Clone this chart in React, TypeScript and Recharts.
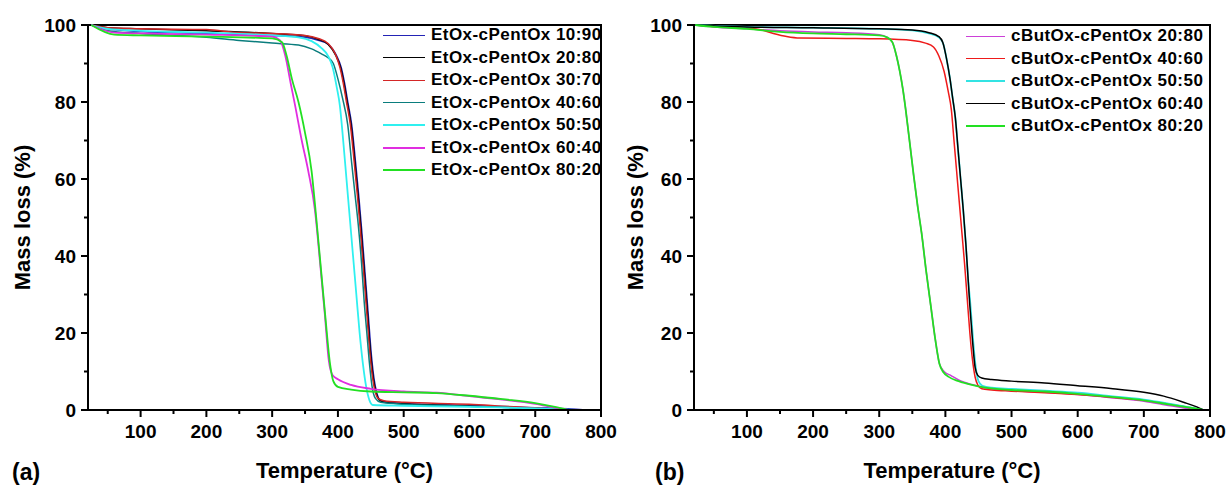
import React from "react";
import { LineChart, Line, XAxis, YAxis, ReferenceArea, Label } from "recharts";

const FONT = "'Liberation Sans', Arial, sans-serif";

// axis ticks (majors get a label, minors only a short tick)
const xTicks = [50, 100, 150, 200, 250, 300, 350, 400, 450, 500, 550, 600, 650, 700, 750, 800];
const yTicks = [0, 10, 20, 30, 40, 50, 60, 70, 80, 90, 100];

type Pt = [number, number]; // [temperature °C, mass %]

// (a) EtOx-cPentOx
const etox1090: Pt[] = [[25, 100], [50, 99], [100, 98.3], [200, 97.8], [300, 97.3], [350, 96.8], [370, 96], [385, 95], [398, 92], [405, 89], [410, 85], [415, 80], [421, 74], [427, 64], [432, 55], [436, 47], [441, 36], [446, 25], [451, 14], [455, 8], [459, 4.5], [463, 2.8], [470, 2.2], [500, 1.7], [600, 1.2], [700, 0.6], [750, 0.3], [780, 0], [800, 0]];
const etox2080: Pt[] = [[25, 100], [50, 99.3], [100, 99], [200, 98.5], [300, 97.8], [350, 97.2], [370, 96.3], [385, 95], [397, 92], [404, 89], [409, 85], [414, 80], [420, 74], [426, 64], [431, 55], [435, 47], [440, 36], [445, 25], [450, 14], [454, 8], [458, 4.5], [462, 2.8], [470, 2], [500, 1.6], [600, 1], [700, 0.4], [760, 0], [800, 0]];
const etox3070: Pt[] = [[25, 100], [50, 99.3], [100, 99], [200, 98.8], [250, 98], [300, 97.8], [350, 97.3], [370, 96.5], [385, 95.2], [396, 92.5], [403, 89], [408, 85], [413, 80], [419, 74], [425, 64], [430, 55], [434, 47], [439, 36], [444, 25], [449, 14], [453, 8], [457, 4.5], [461, 3], [470, 2.4], [500, 2], [600, 1.5], [650, 1], [700, 0.5], [740, 0]];
const etox4060: Pt[] = [[25, 100], [50, 98.5], [100, 97.8], [200, 96.8], [250, 96], [300, 95.3], [340, 94.8], [360, 93.8], [375, 92.5], [385, 91.5], [393, 90], [400, 86], [407, 81], [415, 74], [421, 64], [426, 56], [431, 48], [436, 38], [440, 28], [444, 20], [448, 12], [452, 6], [457, 3], [465, 2], [500, 1.5], [600, 1], [700, 0.4], [750, 0]];
const etox5050: Pt[] = [[25, 100], [50, 99], [100, 98.5], [200, 98], [300, 97.3], [340, 96.8], [360, 95.8], [375, 94], [385, 92], [392, 89], [398, 84], [403, 79], [408, 70], [413, 60], [418, 50], [423, 40], [428, 30], [433, 20], [438, 12], [443, 6], [448, 2.5], [453, 1.3], [500, 1.1], [600, 0.8], [700, 0.4], [760, 0]];
const etox6040: Pt[] = [[25, 100], [60, 98], [100, 97.8], [200, 97.5], [300, 97], [312, 96], [320, 92], [328, 85], [335, 79], [345, 70], [355, 62], [365, 52], [373, 38], [380, 25], [386, 13], [392, 9], [400, 8], [420, 6.5], [450, 5.5], [500, 4.8], [550, 4.5], [600, 3.6], [650, 2.7], [700, 1.6], [730, 0.6], [750, 0]];
const etox8020: Pt[] = [[25, 100], [60, 97.5], [100, 97.3], [200, 97], [300, 96.5], [315, 95.5], [322, 92], [330, 86], [340, 80], [350, 72], [360, 62], [367, 50], [374, 37], [381, 24], [388, 12], [393, 7.5], [400, 6], [420, 5.3], [450, 4.8], [500, 4.6], [550, 4.4], [600, 3.7], [650, 2.8], [700, 1.8], [730, 0.8], [750, 0]];

// (b) cButOx-cPentOx
const cbut2080: Pt[] = [[22, 100], [50, 99.5], [100, 99], [150, 98.5], [200, 98.2], [250, 98], [300, 97.5], [312, 96.8], [320, 95.5], [326, 92], [331, 88], [336, 83], [340, 78], [345, 71], [352, 61], [358, 53], [364, 46], [371, 36], [378, 27], [385, 18], [391, 12], [398, 10], [408, 9], [420, 7.8], [440, 6.6], [460, 5.8], [500, 5], [550, 4.6], [600, 4], [650, 3.2], [700, 2.3], [740, 1.1], [770, 0.3], [790, 0]];
const cbut4060: Pt[] = [[22, 100], [60, 99.5], [100, 99.3], [120, 98.8], [140, 97.8], [160, 97], [180, 96.6], [250, 96.5], [300, 96.4], [350, 96], [370, 95.3], [382, 94.3], [390, 92], [398, 88], [404, 83], [409, 78], [413, 70], [417, 62], [421, 54], [425, 46], [429, 38], [433, 29], [437, 20], [441, 13], [445, 8.5], [449, 6.5], [455, 5.5], [470, 5.2], [500, 4.9], [550, 4.5], [600, 4], [650, 3.3], [700, 2.5], [740, 1.5], [770, 0.6], [790, 0]];
const cbut5050: Pt[] = [[22, 100], [60, 99.7], [100, 99.5], [200, 99.3], [300, 99], [350, 98.6], [375, 97.8], [390, 96.8], [397, 95], [402, 91], [407, 86], [411, 81], [415, 76], [419, 68], [423, 60], [427, 52], [431, 43], [434, 35], [438, 27], [442, 18], [446, 11], [450, 7.5], [456, 6.3], [470, 5.8], [500, 5.5], [550, 5], [600, 4.5], [650, 3.6], [700, 2.7], [740, 1.6], [770, 0.7], [790, 0]];
const cbut6040: Pt[] = [[22, 100], [60, 99.7], [100, 99.5], [200, 99.3], [300, 99], [350, 98.7], [375, 98], [390, 97], [396, 95.5], [402, 91], [407, 86], [411, 81], [415, 76], [419, 68], [423, 60], [427, 52], [431, 43], [434, 35], [437, 27], [441, 18], [445, 11], [449, 9], [455, 8.3], [470, 7.9], [500, 7.5], [550, 7], [600, 6.3], [650, 5.6], [700, 4.6], [730, 3.6], [760, 2], [780, 0.8], [790, 0]];
const cbut8020: Pt[] = [[22, 100], [50, 99.5], [100, 99], [150, 98.2], [200, 97.8], [250, 97.6], [300, 97.3], [312, 96.8], [320, 95.5], [326, 92], [331, 88], [336, 83], [340, 78], [345, 71], [352, 61], [358, 53], [364, 46], [371, 36], [378, 27], [385, 18], [391, 12], [397, 9.8], [405, 8.6], [420, 7.5], [440, 6.5], [460, 5.8], [500, 5.2], [550, 4.8], [600, 4.2], [650, 3.4], [700, 2.5], [740, 1.4], [770, 0.6], [790, 0]];

const toRows = (pts: Pt[]) => pts.map(([t, m]) => ({ t, m }));

interface Series {
  name: string;
  color: string;
  key: string;
  thick: boolean;
  pts: Pt[];
}

const seriesA: Series[] = [
  { name: "EtOx-cPentOx 10:90", key: "a1", color: "#2323b5", thick: false, pts: etox1090 },
  { name: "EtOx-cPentOx 20:80", key: "a2", color: "#000000", thick: false, pts: etox2080 },
  { name: "EtOx-cPentOx 30:70", key: "a3", color: "#d42626", thick: false, pts: etox3070 },
  { name: "EtOx-cPentOx 40:60", key: "a4", color: "#0a7d7d", thick: false, pts: etox4060 },
  { name: "EtOx-cPentOx 50:50", key: "a5", color: "#2ff0f0", thick: true, pts: etox5050 },
  { name: "EtOx-cPentOx 60:40", key: "a6", color: "#e02ee0", thick: true, pts: etox6040 },
  { name: "EtOx-cPentOx 80:20", key: "a7", color: "#22e022", thick: true, pts: etox8020 },
];

const seriesB: Series[] = [
  { name: "cButOx-cPentOx 20:80", key: "b1", color: "#cc40d8", thick: false, pts: cbut2080 },
  { name: "cButOx-cPentOx 40:60", key: "b2", color: "#ee1a1a", thick: false, pts: cbut4060 },
  { name: "cButOx-cPentOx 50:50", key: "b3", color: "#33e3e3", thick: true, pts: cbut5050 },
  { name: "cButOx-cPentOx 60:40", key: "b4", color: "#000000", thick: false, pts: cbut6040 },
  { name: "cButOx-cPentOx 80:20", key: "b5", color: "#22e022", thick: true, pts: cbut8020 },
];

const XTick = (props: any) => {
  const { x, y, payload } = props;
  const major = payload.value % 100 === 0;
  return (
    <g>
      <line x1={x} x2={x} y1={y} y2={y + (major ? 7 : 4)} stroke="#000" strokeWidth={2} />
      {major && (
        <text x={x} y={y + 28} textAnchor="middle" fontSize={19} fontWeight="bold" fontFamily={FONT} fill="#000">
          {payload.value}
        </text>
      )}
    </g>
  );
};

const YTick = (props: any) => {
  const { x, y, payload } = props;
  const major = payload.value % 20 === 0;
  return (
    <g>
      <line x1={x} x2={x - (major ? 7 : 4)} y1={y} y2={y} stroke="#000" strokeWidth={2} />
      {major && (
        <text x={x - 12} y={y + 6.5} textAnchor="end" fontSize={19} fontWeight="bold" fontFamily={FONT} fill="#000">
          {payload.value}
        </text>
      )}
    </g>
  );
};

interface PanelProps {
  series: Series[];
  left: number;
  width: number;
  marginLeft: number;
  marginRight: number;
  tag: string;
  tagX: number;
  legendLeft: number;
  legendTop: number;
  segment: number;
}

function Panel({ series, left, width, marginLeft, marginRight, tag, tagX, legendLeft, legendTop, segment }: PanelProps) {
  return (
    <div style={{ position: "absolute", left, top: 0, width, height: 488 }}>
      <LineChart width={width} height={488} margin={{ top: 25, right: marginRight, bottom: 77, left: marginLeft - 1 }}>
        <XAxis
          type="number"
          dataKey="t"
          domain={[20, 800]}
          ticks={xTicks}
          interval={0}
          allowDataOverflow
          height={1}
          tickSize={0}
          tickMargin={0}
          tick={(p: any) => <XTick {...p} />}
          axisLine={{ stroke: "#000", strokeWidth: 2 }}
        >
          <Label
            content={(p: any) => {
              const vb = p.viewBox;
              return (
                <g fontFamily={FONT} fontWeight="bold" fill="#000">
                  <text x={vb.x + vb.width / 2} y={478} textAnchor="middle" fontSize={22}>
                    Temperature (°C)
                  </text>
                  <text x={tagX} y={480} textAnchor="start" fontSize={23}>
                    {tag}
                  </text>
                </g>
              );
            }}
          />
        </XAxis>
        <YAxis
          type="number"
          domain={[0, 100]}
          ticks={yTicks}
          interval={0}
          width={1}
          tickSize={0}
          tickMargin={0}
          tick={(p: any) => <YTick {...p} />}
          axisLine={{ stroke: "#000", strokeWidth: 2 }}
        >
          <Label
            content={(p: any) => {
              const vb = p.viewBox;
              const cx = 22;
              const cy = vb.y + vb.height / 2;
              return (
                <text
                  x={cx}
                  y={cy}
                  dy="0.36em"
                  transform={`rotate(-90 ${cx} ${cy})`}
                  textAnchor="middle"
                  fontFamily={FONT}
                  fontWeight="bold"
                  fontSize={22}
                  fill="#000"
                >
                  Mass loss (%)
                </text>
              );
            }}
          />
        </YAxis>
        <ReferenceArea x1={20} x2={800} y1={0} y2={100} fill="none" stroke="#000" strokeWidth={2} />
        {series.map((s) => (
          <Line
            key={s.key}
            data={toRows(s.pts)}
            dataKey="m"
            name={s.name}
            type="monotone"
            stroke={s.color}
            strokeWidth={s.thick ? 1.8 : 1.5}
            dot={false}
            activeDot={false}
            isAnimationActive={false}
          />
        ))}
      </LineChart>
      <div
        style={{
          position: "absolute",
          left: legendLeft,
          top: legendTop,
          fontFamily: FONT,
          fontWeight: "bold",
          fontSize: 17,
          letterSpacing: 0.45,
          color: "#000",
          whiteSpace: "nowrap",
        }}
      >
        {series.map((s) => (
          <div key={s.key} style={{ display: "flex", alignItems: "center", height: 22.5 }}>
            <span
              style={{
                display: "inline-block",
                width: segment,
                height: 0,
                borderTop: `${s.thick ? 2.5 : 1.5}px solid ${s.color}`,
                marginRight: 6,
              }}
            />
            <span>{s.name}</span>
          </div>
        ))}
      </div>
    </div>
  );
}

export default function App() {
  return (
    <div style={{ position: "absolute", left: 0, top: 0, width: 1227, height: 488, background: "#fff", overflow: "hidden" }}>
      <Panel
        series={seriesA}
        left={0}
        width={625}
        marginLeft={88}
        marginRight={24}
        tag="(a)"
        tagX={12}
        legendLeft={383}
        legendTop={23.75}
        segment={42}
      />
      <Panel
        series={seriesB}
        left={613}
        width={614}
        marginLeft={81}
        marginRight={17}
        tag="(b)"
        tagX={42}
        legendLeft={353}
        legendTop={24.75}
        segment={39}
      />
    </div>
  );
}
